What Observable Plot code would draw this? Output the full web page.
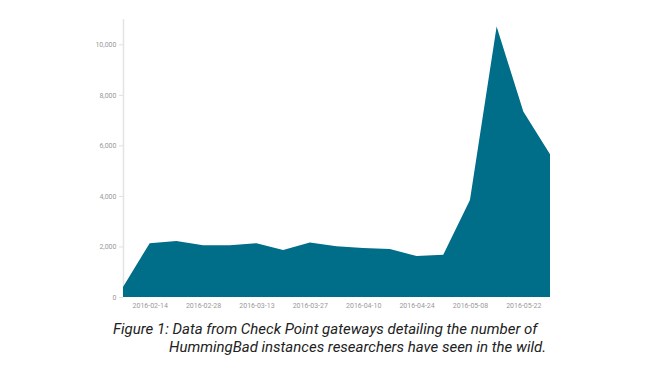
<!DOCTYPE html>
<html>
<head>
<meta charset="utf-8">
<script src="https://cdn.jsdelivr.net/npm/d3@7"></script>
<script src="https://cdn.jsdelivr.net/npm/@observablehq/plot@0.6"></script>
<style>
  html, body { margin: 0; padding: 0; background: #fff; }
  #wrap { position: relative; width: 650px; height: 365px; overflow: hidden; }
  .cap { position: absolute; font-family: Roboto, "Open Sans", sans-serif; font-style: italic;
         font-size: 15px; color: #222; white-space: nowrap; line-height: 1; }
</style>
</head>
<body>
<div id="wrap">
  <div id="chart"></div>
  <div class="cap" id="c1" style="left:113px; top:322px;">Figure 1: Data from Check Point gateways detailing the number of</div>
  <div class="cap" id="c2" style="left:169px; top:340px;">HummingBad instances researchers have seen in the wild.</div>
</div>
<script>
const dates = ["2016-02-07","2016-02-14","2016-02-21","2016-02-28","2016-03-06","2016-03-13","2016-03-20","2016-03-27","2016-04-03","2016-04-10","2016-04-17","2016-04-24","2016-05-01","2016-05-08","2016-05-15","2016-05-22","2016-05-29"];
const counts = [400, 2130, 2220, 2050, 2050, 2130, 1860, 2160, 2010, 1940, 1900, 1620, 1670, 3840, 10700, 7340, 5650];
const xTickLabels = ["2016-02-14","2016-02-28","2016-03-13","2016-03-27","2016-04-10","2016-04-24","2016-05-08","2016-05-22"];
const yTicks = [0, 2000, 4000, 6000, 8000, 10000];

const data = dates.map((d, i) => ({date: new Date(d), value: counts[i]}));
const fmt = d3.utcFormat("%Y-%m-%d");

const chart = Plot.plot({
  width: 650,
  height: 315,
  marginLeft: 123,
  marginRight: 100,
  marginTop: 19,
  marginBottom: 18,
  style: {background: "#fff", fontFamily: "Roboto, sans-serif"},
  x: {type: "utc", domain: [new Date(dates[0]), new Date(dates[dates.length - 1])]},
  y: {domain: [0, 11000]},
  marks: [
    Plot.ruleX([new Date(dates[0])], {y1: 0, y2: 11000, stroke: "#e4e4e4", strokeWidth: 1.5}),
    Plot.areaY(data, {x: "date", y: "value", fill: "#006d89"}),
    Plot.axisY({ticks: yTicks, tickFormat: d3.format(","), tickSize: 4, tickPadding: 3,
                stroke: "#e0e0e0", fill: "#999", fontSize: 7, label: null}),
    Plot.axisX({ticks: xTickLabels.map(d => new Date(d)), tickFormat: fmt, tickSize: 0,
                tickPadding: 6, fill: "#999", fontSize: 7, label: null})
  ]
});
document.getElementById("chart").appendChild(chart);
</script>
</body>
</html>
